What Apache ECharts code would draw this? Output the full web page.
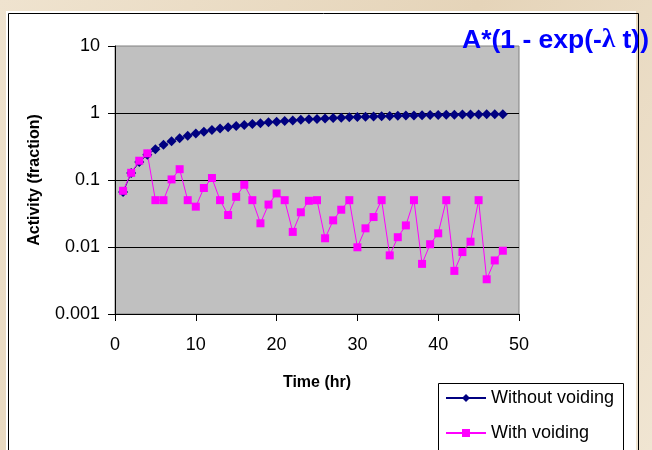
<!DOCTYPE html>
<html>
<head>
<meta charset="utf-8">
<script src="https://cdn.jsdelivr.net/npm/echarts@6/dist/echarts.min.js"></script>
<style>
  html, body { margin: 0; padding: 0; }
  #activityChart { width: 652px; height: 450px; }
</style>
</head>
<body>
<div id="activityChart"></div>
<script>
// time points (hr)
var timeHr = [1, 2, 3, 4, 5, 6, 7, 8, 9, 10, 11, 12, 13, 14, 15, 16, 17, 18, 19, 20, 21, 22, 23, 24,
  25, 26, 27, 28, 29, 30, 31, 32, 33, 34, 35, 36, 37, 38, 39, 40, 41, 42, 43, 44, 45, 46, 47, 48];
// activity without voiding
var withoutVoiding = [0.066, 0.127, 0.185, 0.238, 0.288, 0.335, 0.379, 0.42, 0.458, 0.493, 0.527, 0.558,
  0.587, 0.614, 0.639, 0.663, 0.685, 0.706, 0.725, 0.743, 0.76, 0.776, 0.791, 0.805,
  0.817, 0.829, 0.841, 0.851, 0.861, 0.87, 0.879, 0.887, 0.894, 0.901, 0.907, 0.914,
  0.919, 0.925, 0.93, 0.934, 0.938, 0.943, 0.946, 0.95, 0.953, 0.956, 0.959, 0.962];
// activity with voiding
var withVoiding = [0.069, 0.128, 0.194, 0.25, 0.05, 0.05, 0.102, 0.145, 0.05, 0.04, 0.076, 0.107,
  0.05, 0.03, 0.056, 0.085, 0.05, 0.0226, 0.043, 0.063, 0.05, 0.0168, 0.033, 0.049,
  0.05, 0.0135, 0.025, 0.036, 0.05, 0.0099, 0.019, 0.028, 0.05, 0.0075, 0.014, 0.021,
  0.05, 0.0056, 0.011, 0.016, 0.05, 0.0044, 0.0084, 0.012, 0.05, 0.0033, 0.0063, 0.0088];
// y tick labels, 10^-3 .. 10^1
var yTickLabels = ['0.001', '0.01', '0.1', '1', '10'];
var seriesNames = ['Without voiding', 'With voiding'];

var font = '"Liberation Sans", Arial, sans-serif';

function pairs(ys) {
  return timeHr.map(function (t, i) { return [t, ys[i]]; });
}

var myChart = echarts.init(document.getElementById('activityChart'));
var option = {
  animation: false,
  backgroundColor: new echarts.graphic.LinearGradient(0, 0, 1, 1, [
    { offset: 0, color: '#EFE3CF' },
    { offset: 0.5, color: '#E5D4B9' },
    { offset: 1, color: '#F0E5D2' }
  ]),
  graphic: [
    {
      type: 'rect', left: 6, top: 11, z: -5,
      shape: { width: 630, height: 460 },
      style: { fill: '#FFFFFF' }
    },
    {
      type: 'rect', left: 6, top: 11, z: 100, silent: true,
      shape: { width: 630, height: 460 },
      style: { fill: 'none', stroke: '#000000', lineWidth: 1 }
    },
    // legend box, runs off the bottom edge
    {
      type: 'rect', left: 438, top: 383, z: 3, silent: true,
      shape: { width: 185, height: 90 },
      style: { fill: '#FFFFFF', stroke: '#000000', lineWidth: 1 }
    }
  ],
  title: {
    text: '{a|A*(1 - exp(-}{l|λ}{a| t))}',
    left: 462,
    top: 27,
    padding: 0,
    textStyle: {
      rich: {
        a: { fontSize: 26.5, fontWeight: 'bold', color: '#0000FF', fontFamily: font },
        l: { fontSize: 27, color: '#0000FF', fontFamily: '"Liberation Serif", "DejaVu Serif", serif' }
      }
    }
  },
  legend: {
    orient: 'vertical',
    left: 445,
    top: 389,
    padding: 0,
    itemWidth: 40,
    itemHeight: 10,
    itemGap: 17,
    z: 10,
    itemStyle: { borderWidth: 0 },
    textStyle: { color: '#000000', fontSize: 18, fontFamily: font },
    data: seriesNames
  },
  grid: {
    left: 115,
    right: 133,
    top: 46,
    bottom: 136,
    show: true,
    backgroundColor: '#C0C0C0',
    borderColor: '#808080',
    borderWidth: 1
  },
  xAxis: {
    type: 'value',
    min: 0,
    max: 50,
    interval: 10,
    name: 'Time (hr)',
    nameLocation: 'middle',
    nameGap: 61,
    nameTextStyle: { color: '#000000', fontSize: 16, fontWeight: 'bold', fontFamily: font },
    axisLine: { show: true, onZero: false, lineStyle: { color: '#000000', width: 1 } },
    axisTick: { show: true, length: 7, lineStyle: { color: '#000000' } },
    axisLabel: { color: '#000000', fontSize: 18, fontFamily: font, margin: 22 },
    splitLine: { show: false }
  },
  yAxis: {
    type: 'log',
    logBase: 10,
    min: 0.001,
    max: 10,
    name: 'Activity (fraction)',
    nameLocation: 'middle',
    nameGap: 72,
    nameTextStyle: { color: '#000000', fontSize: 16, fontWeight: 'bold', fontFamily: font },
    axisLine: { show: true, lineStyle: { color: '#000000', width: 1 } },
    axisTick: { show: true, length: 7, lineStyle: { color: '#000000' } },
    axisLabel: {
      color: '#000000', fontSize: 18, fontFamily: font, margin: 15,
      formatter: function (v) {
        return yTickLabels[Math.round(Math.log10(v)) + 3];
      }
    },
    splitLine: {
      show: true,
      showMinLine: false,
      showMaxLine: false,
      lineStyle: { color: '#000000', width: 1 }
    }
  },
  series: [
    {
      name: seriesNames[0],
      type: 'line',
      data: pairs(withoutVoiding),
      symbol: 'diamond',
      symbolSize: 10,
      color: '#000080',
      itemStyle: { color: '#000080', borderWidth: 0 },
      lineStyle: { color: '#000080', width: 1 }
    },
    {
      name: seriesNames[1],
      type: 'line',
      data: pairs(withVoiding),
      symbol: 'rect',
      symbolSize: 8,
      color: '#FF00FF',
      itemStyle: { color: '#FF00FF', borderWidth: 0 },
      lineStyle: { color: '#FF00FF', width: 1 }
    }
  ]
};
myChart.setOption(option);
</script>
</body>
</html>
